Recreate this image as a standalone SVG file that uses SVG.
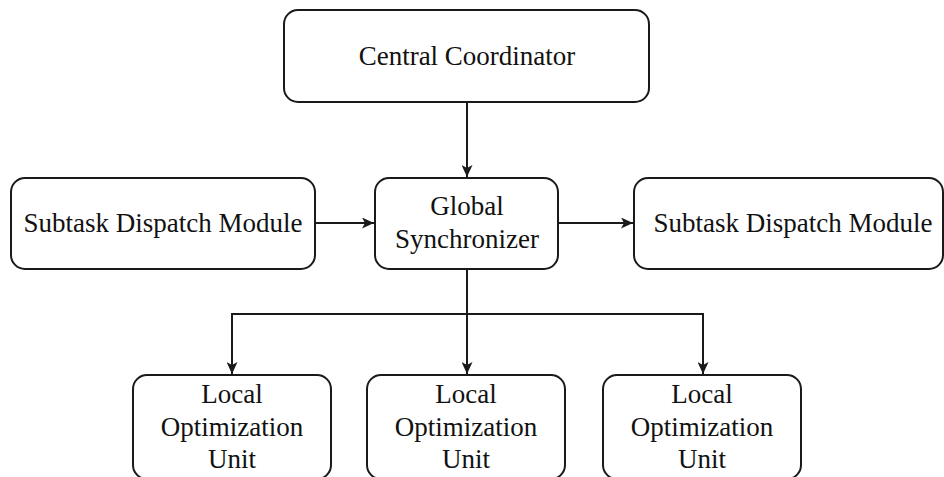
<svg xmlns="http://www.w3.org/2000/svg" width="944" height="477" viewBox="0 0 944 477">
  <defs>
    <style>
      .box { fill: #ffffff; stroke: #1a1a1a; stroke-width: 2; }
      .lbl { font-family: "Liberation Serif", "Times New Roman", serif; font-size: 27px; fill: #111111; text-anchor: middle; }
      .conn { fill: none; stroke: #1a1a1a; stroke-width: 2; }
    </style>
    <marker id="arrow" markerUnits="userSpaceOnUse" markerWidth="12" markerHeight="11" refX="12" refY="5.5" orient="auto">
      <path d="M0,0 L12,5.5 L0,11 L3,5.5 Z" fill="#1a1a1a"/>
    </marker>
  </defs>
  <rect width="944" height="477" fill="#ffffff"/>

  <g id="connectors">
    <path class="conn" d="M467,102 L467,177" marker-end="url(#arrow)"/>
    <path class="conn" d="M315,223 L374,223" marker-end="url(#arrow)"/>
    <path class="conn" d="M558,223 L633,223" marker-end="url(#arrow)"/>
    <path class="conn" d="M467,269 L467,374" marker-end="url(#arrow)"/>
    <path class="conn" d="M467,314 L232,314 L232,374" marker-end="url(#arrow)"/>
    <path class="conn" d="M467,314 L703,314 L703,374" marker-end="url(#arrow)"/>
  </g>

  <g id="central-coordinator">
    <rect class="box" x="284" y="10" width="365" height="92" rx="14"/>
    <text class="lbl" x="467" y="65">Central Coordinator</text>
  </g>

  <g id="subtask-dispatch-left">
    <rect class="box" x="11" y="178" width="304" height="91" rx="14"/>
    <text class="lbl" x="163" y="232">Subtask Dispatch Module</text>
  </g>

  <g id="global-synchronizer">
    <rect class="box" x="375" y="178" width="183" height="91" rx="14"/>
    <text class="lbl" x="467" y="215">Global</text>
    <text class="lbl" x="467" y="248">Synchronizer</text>
  </g>

  <g id="subtask-dispatch-right">
    <rect class="box" x="634" y="178" width="309" height="91" rx="14"/>
    <text class="lbl" x="793" y="232">Subtask Dispatch Module</text>
  </g>

  <g id="local-unit-1">
    <rect class="box" x="133" y="375" width="198" height="104" rx="14"/>
    <text class="lbl" x="232" y="403">Local</text>
    <text class="lbl" x="232" y="436">Optimization</text>
    <text class="lbl" x="232" y="468">Unit</text>
  </g>

  <g id="local-unit-2">
    <rect class="box" x="367" y="375" width="198" height="104" rx="14"/>
    <text class="lbl" x="466" y="403">Local</text>
    <text class="lbl" x="466" y="436">Optimization</text>
    <text class="lbl" x="466" y="468">Unit</text>
  </g>

  <g id="local-unit-3">
    <rect class="box" x="603" y="375" width="198" height="104" rx="14"/>
    <text class="lbl" x="702" y="403">Local</text>
    <text class="lbl" x="702" y="436">Optimization</text>
    <text class="lbl" x="702" y="468">Unit</text>
  </g>
</svg>
